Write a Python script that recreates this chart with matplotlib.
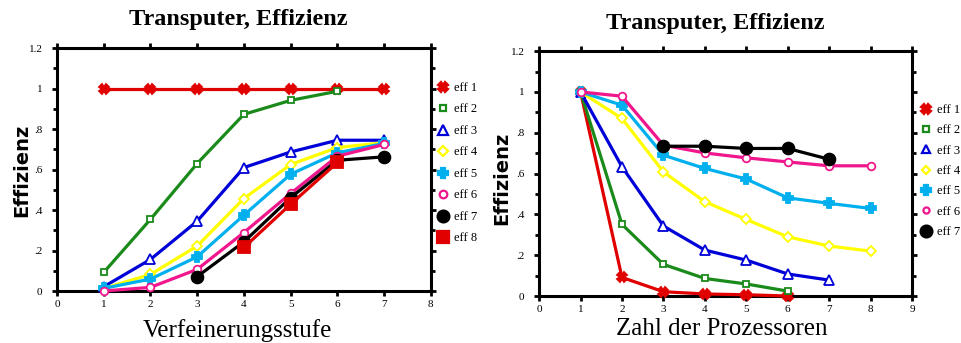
import matplotlib
matplotlib.use('Agg')
import matplotlib.pyplot as plt
from matplotlib.lines import Line2D
from matplotlib.ticker import MultipleLocator, FixedLocator

# left chart: efficiency vs refinement level
x_left = {
    'eff 1': [1, 2, 3, 4, 5, 6, 7],
    'eff 2': [1, 2, 3, 4, 5, 6],
    'eff 3': [1, 2, 3, 4, 5, 6, 7],
    'eff 4': [1, 2, 3, 4, 5, 6, 7],
    'eff 5': [1, 2, 3, 4, 5, 6, 7],
    'eff 6': [1, 2, 3, 4, 5, 6, 7],
    'eff 7': [3, 4, 5, 6, 7],
    'eff 8': [4, 5, 6],
}
y_left = {
    'eff 1': [1.0, 1.0, 1.0, 1.0, 1.0, 1.0, 1.0],
    'eff 2': [0.092, 0.354, 0.63, 0.873, 0.942, 0.987],
    'eff 3': [0.021, 0.156, 0.345, 0.61, 0.687, 0.745, 0.745],
    'eff 4': [0.013, 0.082, 0.222, 0.457, 0.625, 0.709, 0.733],
    'eff 5': [0.013, 0.059, 0.169, 0.375, 0.577, 0.683, 0.729],
    'eff 6': [0.0, 0.018, 0.107, 0.289, 0.482, 0.666, 0.724],
    'eff 7': [0.071, 0.243, 0.461, 0.646, 0.663],
    'eff 8': [0.215, 0.429, 0.635],
}

# right chart: efficiency vs number of processors
x_right = {
    'eff 1': [1, 2, 3, 4, 5, 6],
    'eff 2': [1, 2, 3, 4, 5, 6],
    'eff 3': [1, 2, 3, 4, 5, 6, 7],
    'eff 4': [1, 2, 3, 4, 5, 6, 7, 8],
    'eff 5': [1, 2, 3, 4, 5, 6, 7, 8],
    'eff 6': [1, 2, 3, 4, 5, 6, 7, 8],
    'eff 7': [3, 4, 5, 6, 7],
}
y_right = {
    'eff 1': [1.0, 0.091, 0.021, 0.01, 0.006, 0.0],
    'eff 2': [1.0, 0.351, 0.155, 0.086, 0.059, 0.024],
    'eff 3': [1.0, 0.633, 0.343, 0.225, 0.176, 0.108, 0.078],
    'eff 4': [1.0, 0.87, 0.608, 0.462, 0.375, 0.29, 0.245, 0.22],
    'eff 5': [1.0, 0.935, 0.69, 0.625, 0.573, 0.481, 0.454, 0.429],
    'eff 6': [1.0, 0.979, 0.739, 0.701, 0.677, 0.657, 0.638, 0.638],
    'eff 7': [0.734, 0.734, 0.723, 0.723, 0.67],
}

styles = {
    'eff 1': dict(color='#e00000', marker='X', ms=6.5, mfc='#e00000'),
    'eff 2': dict(color='#1a8a1a', marker='s', ms=5, mfc='white'),
    'eff 3': dict(color='#0000d8', marker='^', ms=6.5, mfc='white'),
    'eff 4': dict(color='#ffff00', marker='D', ms=5.5, mfc='white'),
    'eff 5': dict(color='#00b0ee', marker='P', ms=6.5, mfc='#00b0ee'),
    'eff 6': dict(color='#f0168c', marker='o', ms=5.5, mfc='white'),
    'eff 7': dict(color='black', marker='o', ms=8.5, mfc='black'),
    'eff 8': dict(color='#e00000', marker='s', ms=8.5, mfc='#e00000'),
}

serif = 'Liberation Serif'

fig = plt.figure(figsize=(9.61, 3.43), dpi=100)
ax1 = fig.add_axes([0.0593, 0.1516, 0.389, 0.708])
ax2 = fig.add_axes([0.561, 0.137, 0.388, 0.714])


def draw(ax, xs, ys, xmax, small):
    handles = []
    for name in ys:
        st = styles[name]
        ax.plot(xs[name], ys[name], color=st['color'], lw=2.3, marker=st['marker'],
                ms=st['ms'], mfc=st['mfc'], mec=st['color'], mew=1.3, clip_on=False,
                zorder=3)
        ms = st['ms'] * (0.8 if small and st['mfc'] == 'white' else 1.0)
        handles.append(Line2D([], [], ls='none', marker=st['marker'], ms=ms,
                              mfc=st['mfc'], mec=st['color'], mew=1.6,
                              color=st['color'], label=name))
    ax.set_xlim(0, xmax)
    ax.set_ylim(0, 1.2)
    ax.xaxis.set_major_locator(MultipleLocator(1))
    ax.yaxis.set_major_locator(FixedLocator([0, 0.2, 0.4, 0.6, 0.8, 1.0, 1.2]))
    ax.yaxis.set_minor_locator(MultipleLocator(0.1))
    ax.set_yticklabels(['0', '.2', '.4', '.6', '.8', '1', '1.2'])
    ax.tick_params(which='both', direction='out', top=True, right=True,
                   width=2, labelsize=8, pad=7)
    ax.tick_params(axis='x', pad=3)
    ax.tick_params(which='major', length=3.5)
    ax.tick_params(which='minor', length=3)
    ax.tick_params(axis='x', which='minor', top=False, bottom=False)
    for lab in ax.get_xticklabels() + ax.get_yticklabels():
        lab.set_family(serif)
    for sp in ax.spines.values():
        sp.set_linewidth(2.2)
    return handles


h1 = draw(ax1, x_left, y_left, 8, False)
h2 = draw(ax2, x_right, y_right, 9, True)

fig.legend(handles=h1, loc='upper left', bbox_to_anchor=(0.4547, 0.761),
           bbox_transform=fig.transFigure, frameon=False,
           prop={'family': serif, 'size': 9}, handlelength=1.0,
           handletextpad=0.4, labelspacing=0.76, borderpad=0, borderaxespad=0)
fig.legend(handles=h2, loc='upper left', bbox_to_anchor=(0.957, 0.697),
           bbox_transform=fig.transFigure, frameon=False,
           prop={'family': serif, 'size': 9}, handlelength=1.0,
           handletextpad=0.4, labelspacing=0.67, borderpad=0, borderaxespad=0)

fig.text(238 / 961, 1 - 20 / 343, 'Transputer, Effizienz', ha='center', va='center',
         family=serif, weight='bold', fontsize=17.5)
fig.text(715 / 961, 1 - 24 / 343, 'Transputer, Effizienz', ha='center', va='center',
         family=serif, weight='bold', fontsize=17.5)
fig.text(237 / 961, 1 - 331 / 343, 'Verfeinerungsstufe', ha='center', va='center',
         family=serif, fontsize=18)
fig.text(722 / 961, 1 - 329 / 343, 'Zahl der Prozessoren', ha='center', va='center',
         family=serif, fontsize=18)
fig.text(22 / 961, 1 - 170 / 343, 'Effizienz', rotation=90, ha='center', va='center',
         family='DejaVu Sans', weight='heavy', fontsize=14)
fig.text(502 / 961, 1 - 178 / 343, 'Effizienz', rotation=90, ha='center', va='center',
         family='DejaVu Sans', weight='heavy', fontsize=14)

fig.savefig('out.png', dpi=100)
